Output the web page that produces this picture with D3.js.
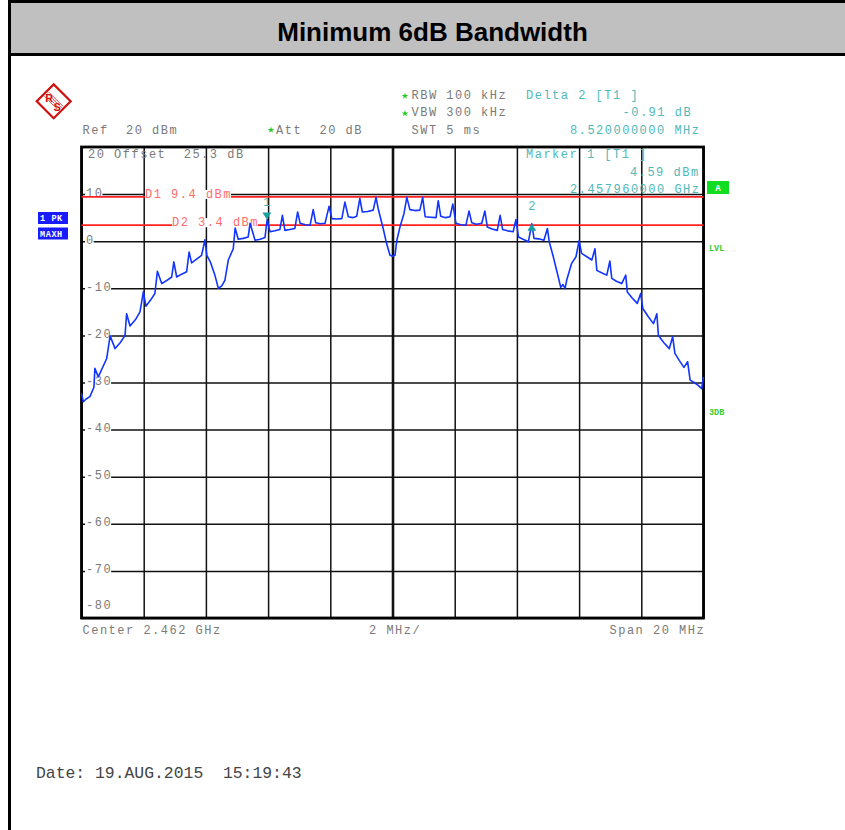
<!DOCTYPE html>
<html>
<head>
<meta charset="utf-8">
<script src="https://cdn.jsdelivr.net/npm/d3@7/dist/d3.min.js"></script>
<style>
  body { margin: 0; background: #fff; }
  svg { display: block; }
  svg text { white-space: pre; }
</style>
</head>
<body>
<div id="chart"></div>
<script>
const chartTitle = "Minimum 6dB Bandwidth"

// Analyzer settings (MHz / dBm)
const centerMHz = 2462
const spanMHz = 20
const refLevel = 20
const rangeDb = 100
const gridLevels = [10, 0, -10, -20, -30, -40, -50, -60, -70, -80]
const gridFreqs = [2452, 2454, 2456, 2458, 2460, 2462, 2464, 2466, 2468, 2470, 2472]

// Max hold trace
const traceFreqs = [
  2452.00, 2452.06, 2452.15, 2452.27, 2452.40, 2452.43, 2452.54, 2452.70, 2452.81, 2452.92,
  2453.08, 2453.25, 2453.40, 2453.45, 2453.56, 2453.75, 2453.88, 2453.99, 2454.07, 2454.22,
  2454.36, 2454.44, 2454.58, 2454.75, 2454.90, 2454.97, 2455.06, 2455.22, 2455.38, 2455.46,
  2455.54, 2455.70, 2455.86, 2455.97, 2456.03, 2456.15, 2456.28, 2456.40, 2456.51, 2456.61,
  2456.72, 2456.88, 2456.94, 2457.04, 2457.20, 2457.36, 2457.42, 2457.58, 2457.75, 2457.90,
  2457.97, 2458.06, 2458.22, 2458.38, 2458.46, 2458.54, 2458.70, 2458.86, 2458.95, 2459.03,
  2459.20, 2459.35, 2459.45, 2459.53, 2459.68, 2459.83, 2459.96, 2460.05, 2460.20, 2460.37,
  2460.47, 2460.58, 2460.72, 2460.85, 2460.95, 2461.03, 2461.20, 2461.38, 2461.47, 2461.54,
  2461.70, 2461.81, 2461.92, 2462.00, 2462.08, 2462.14, 2462.24, 2462.37, 2462.46, 2462.56,
  2462.72, 2462.88, 2462.97, 2463.05, 2463.22, 2463.40, 2463.47, 2463.55, 2463.70, 2463.85,
  2463.94, 2464.04, 2464.20, 2464.36, 2464.46, 2464.55, 2464.70, 2464.87, 2464.97, 2465.05,
  2465.20, 2465.37, 2465.46, 2465.54, 2465.70, 2465.88, 2465.97, 2466.05, 2466.20, 2466.37,
  2466.48, 2466.55, 2466.70, 2466.87, 2466.98, 2467.04, 2467.17, 2467.33, 2467.41, 2467.48,
  2467.55, 2467.60, 2467.76, 2467.90, 2468.00, 2468.08, 2468.25, 2468.41, 2468.51, 2468.57,
  2468.72, 2468.89, 2468.99, 2469.05, 2469.20, 2469.37, 2469.50, 2469.55, 2469.70, 2469.87,
  2469.98, 2470.05, 2470.22, 2470.39, 2470.50, 2470.55, 2470.72, 2470.90, 2471.01, 2471.08,
  2471.22, 2471.37, 2471.49, 2471.57, 2471.70, 2471.83, 2471.94, 2472.00
]
const traceLevels = [
  -32.3, -34.1, -33.5, -33.0, -31.0, -27.0, -28.8, -26.5, -24.9, -20.1,
  -22.8, -21.5, -20.0, -15.4, -18.0, -16.5, -15.0, -10.7, -13.8, -12.5,
  -11.1, -6.4, -9.0, -8.3, -7.6, -4.4, -7.6, -7.0, -6.5, -2.3,
  -4.6, -3.8, -3.0, 0.3, -3.0, -4.5, -7.0, -10.0, -9.5, -8.3,
  -4.0, -1.6, 2.8, 0.4, 0.6, 0.9, 3.8, 0.2, 0.4, 0.8,
  4.6, 2.0, 2.2, 2.5, 5.5, 2.3, 2.5, 2.7, 6.2, 3.8,
  3.5, 3.4, 6.7, 3.9, 3.7, 3.8, 7.4, 4.8, 4.7, 4.8,
  8.3, 5.2, 5.0, 5.3, 9.1, 6.2, 6.3, 6.6, 9.3, 6.9,
  2.7, -0.5, -3.0, -3.2, -3.0, 0.2, 3.0, 5.9, 9.3, 6.7,
  6.5, 6.6, 9.3, 5.2, 5.1, 5.0, 8.6, 5.3, 5.0, 5.2,
  7.9, 3.8, 3.5, 3.4, 6.4, 3.9, 3.6, 3.8, 6.4, 3.0,
  2.6, 2.3, 5.5, 2.5, 2.2, 2.0, 4.6, 0.9, 0.4, -0.1,
  3.7, 0.6, 0.5, 0.2, 2.7, -0.1, -3.3, -7.6, -9.8, -9.2,
  -10.0, -8.3, -4.7, -3.3, 0.1, -2.6, -3.3, -4.0, -1.6, -6.2,
  -6.7, -7.2, -4.2, -7.9, -8.5, -9.0, -7.2, -10.8, -12.0, -13.2,
  -11.1, -14.3, -16.0, -17.5, -15.4, -20.0, -21.5, -22.8, -20.3, -23.8,
  -25.3, -26.8, -25.6, -29.5, -30.0, -30.6, -31.3, -28.8
]

// Display lines and markers
const lineNames = ["D1", "D2"]
const lineLevels = [9.4, 3.4]
const markerNames = ["1", "2"]
const markerFreqs = [2457.96, 2466.48]
const markerLevels = [4.59, 3.68]

const plot = {left: 81.5, right: 703.5, top: 147, bottom: 618}
const mono = "'Liberation Mono', 'Courier New', monospace"
const gray = "#7a7a7a"
const teal = "#4fb8b8"
const red = "#ff2020"

const svg = d3.select("#chart")
  .append("svg")
  .attr("width", 845)
  .attr("height", 830)

const xScale = d3.scaleLinear()
  .domain([centerMHz - spanMHz / 2, centerMHz + spanMHz / 2])
  .range([plot.left, plot.right])
const yScale = d3.scaleLinear()
  .domain([refLevel - rangeDb, refLevel])
  .range([plot.bottom, plot.top])

/**
 * Page frame and grey title bar.
 */
const _drawPage = () => {
  svg.append("rect")
    .attr("x", 10).attr("y", 2).attr("width", 840).attr("height", 52)
    .attr("fill", "#c0c0c0")
  svg.append("path")
    .attr("d", "M9.5,830 V1.5 H845 M9.5,54.5 H845")
    .attr("fill", "none")
    .attr("stroke", "#000")
    .attr("stroke-width", 3)
  svg.append("text")
    .attr("x", 432.5).attr("y", 41)
    .attr("text-anchor", "middle")
    .style("font-family", "'Liberation Sans', Arial, sans-serif")
    .style("font-weight", "bold")
    .style("font-size", "26px")
    .text(chartTitle)
}

/**
 * Rohde & Schwarz style logo in the top left corner.
 */
const _drawLogo = () => {
  const logo = svg.append("g").attr("transform", "translate(53.7,101.3)")
  const diamond = logo.append("g").attr("transform", "rotate(45)")
  diamond.append("rect")
    .attr("x", -12).attr("y", -12).attr("width", 24).attr("height", 24)
    .attr("fill", "#fff").attr("stroke", "#d01010").attr("stroke-width", 2.2)
  ;[-3, -1, 1, 3].forEach(d => {
    diamond.append("line")
      .attr("x1", -10).attr("x2", 10).attr("y1", d).attr("y2", d)
      .attr("stroke", "#d01010").attr("stroke-width", 0.8)
  })
  logo.append("text").attr("x", -4.5).attr("y", 0.5)
    .attr("text-anchor", "middle")
    .style("font-family", "'Liberation Sans', Arial").style("font-weight", "bold").style("font-size", "11px")
    .attr("fill", "#d01010").attr("stroke", "#fff").attr("stroke-width", 0.7).attr("paint-order", "stroke")
    .text("R")
  logo.append("text").attr("x", 3.5).attr("y", 10)
    .attr("text-anchor", "middle")
    .style("font-family", "'Liberation Sans', Arial").style("font-weight", "bold").style("font-size", "11px")
    .attr("fill", "#d01010").attr("stroke", "#fff").attr("stroke-width", 0.7).attr("paint-order", "stroke")
    .text("S")
}

/**
 * Monospace helper used for all the analyzer readouts.
 */
const _label = (x, y, txt, colour, anchor) => {
  return svg.append("text")
    .attr("x", x).attr("y", y)
    .attr("text-anchor", anchor || "start")
    .attr("fill", colour)
    .style("font-family", mono)
    .style("font-size", "12px")
    .style("letter-spacing", "1.5px")
    .text(txt)
}

const _star = (x, y) => {
  svg.append("path")
    .attr("transform", "translate(" + x + "," + y + ")")
    .attr("d", d3.symbol(d3.symbolStar, 14)())
    .attr("fill", "#22cc22")
}

/**
 * Grid lines are drawn through d3 axes with full length ticks.
 */
const _drawGrid = () => {
  const width = plot.right - plot.left
  const height = plot.bottom - plot.top
  svg.append("g")
    .attr("transform", "translate(" + plot.left + ",0)")
    .call(d3.axisLeft(yScale).tickValues(gridLevels).tickSize(-width).tickFormat(""))
    .call(g => g.select(".domain").remove())
    .call(g => g.selectAll("line").attr("stroke", "#111").attr("stroke-width", 1.5))
  svg.append("g")
    .attr("transform", "translate(0," + plot.top + ")")
    .call(d3.axisTop(xScale).tickValues(gridFreqs).tickSize(-height).tickFormat(""))
    .call(g => g.select(".domain").remove())
    .call(g => g.selectAll("line")
      .attr("stroke", "#111")
      .attr("stroke-width", d => d === centerMHz ? 2.6 : 1.5))

  // Level labels sit on the grid lines with a white background.
  gridLevels.forEach(v => {
    const txt = v < 0 ? "-" + Math.abs(v) : String(v)
    if (v === refLevel - rangeDb) {
      _label(86, yScale(v) - 9, txt, gray)
      return
    }
    const y = yScale(v)
    svg.append("rect")
      .attr("x", 85).attr("y", y - 5)
      .attr("width", txt.length * 8.7).attr("height", 8)
      .attr("fill", "#fff")
    _label(86, y + 2.5, txt, gray)
  })

  svg.append("rect")
    .attr("x", plot.left).attr("y", plot.top)
    .attr("width", width).attr("height", height)
    .attr("fill", "none").attr("stroke", "#000").attr("stroke-width", 2.8)
}

/**
 * Horizontal display lines D1 / D2.
 */
const _drawDisplayLines = () => {
  const labelX = [145, 172]
  lineNames.forEach((name, i) => {
    const y = yScale(lineLevels[i])
    svg.append("line")
      .attr("x1", plot.left).attr("x2", plot.right)
      .attr("y1", y).attr("y2", y)
      .attr("stroke", red).attr("stroke-width", 1.8)
    const txt = name + " " + lineLevels[i] + " dBm"
    svg.append("rect")
      .attr("x", labelX[i]).attr("y", y - 7)
      .attr("width", txt.length * 8.7 - 1).attr("height", 9)
      .attr("fill", "#fff")
    _label(labelX[i], y + 1, txt, "#ff6a6a")
  })
}

const _drawTrace = () => {
  const line = d3.line()
    .x((d, i) => xScale(traceFreqs[i]))
    .y((d, i) => yScale(traceLevels[i]))
  svg.append("path")
    .datum(traceLevels)
    .attr("d", line)
    .attr("fill", "none")
    .attr("stroke", "#1234ff")
    .attr("stroke-width", 1.6)
    .attr("stroke-linejoin", "round")
}

/**
 * Marker 1 points down, delta marker 2 points up.
 */
const _drawMarkers = () => {
  markerNames.forEach((name, i) => {
    const x = xScale(markerFreqs[i])
    const y = yScale(markerLevels[i])
    const d = i === 0
      ? "M" + (x - 4.5) + "," + (y - 7) + "L" + (x + 4.5) + "," + (y - 7) + "L" + x + "," + y + "Z"
      : "M" + (x - 4.5) + "," + (y + 7) + "L" + (x + 4.5) + "," + (y + 7) + "L" + x + "," + y + "Z"
    svg.append("path").attr("d", d).attr("fill", "#1aa0a0")
    _label(x + 0.8, y - 14, name, teal, "middle")
  })
}

/**
 * Settings readouts around the diagram.
 */
const _drawReadouts = () => {
  _label(82.5, 134, "Ref  20 dBm", gray)
  _star(271, 130)
  _label(276, 134, "Att  20 dB", gray)
  _star(405, 96)
  _label(411.5, 98.5, "RBW 100 kHz", gray)
  _star(405, 113.5)
  _label(411.5, 116, "VBW 300 kHz", gray)
  _label(411.5, 133.5, "SWT 5 ms", gray)
  _label(526, 98.5, "Delta 2 [T1 ]", teal)
  _label(622.5, 116, "-0.91 dB", teal)
  _label(570, 133.5, "8.520000000 MHz", teal)
  _label(88, 158, "20 Offset  25.3 dB", gray)
  _label(526, 158, "Marker 1 [T1 ]", teal)
  _label(630, 175.5, "4.59 dBm", teal)
  _label(570, 193, "2.457960000 GHz", teal)
  _label(82.5, 633.5, "Center 2.462 GHz", gray)
  _label(369, 633.5, "2 MHz/", gray)
  _label(609.5, 633.5, "Span 20 MHz", gray)

  svg.append("text")
    .attr("x", 36).attr("y", 778)
    .attr("fill", "#444")
    .style("font-family", mono)
    .style("font-size", "16.4px")
    .text("Date: 19.AUG.2015  15:19:43")

  // Trace info boxes on the left and status flags on the right.
  const boxes = [["1 PK", 212], ["MAXH", 227.5]]
  boxes.forEach(b => {
    svg.append("rect")
      .attr("x", 38).attr("y", b[1]).attr("width", 30).attr("height", 12)
      .attr("fill", "#1a1aff")
    svg.append("text")
      .attr("x", 40).attr("y", b[1] + 9)
      .attr("fill", "#fff")
      .style("font-family", mono).style("font-weight", "bold").style("font-size", "8.5px")
      .style("letter-spacing", "0.6px")
      .text(b[0])
  })
  svg.append("rect")
    .attr("x", 707).attr("y", 181).attr("width", 22).attr("height", 13)
    .attr("fill", "#11dd22")
  svg.append("text")
    .attr("x", 718).attr("y", 191).attr("text-anchor", "middle")
    .attr("fill", "#fff")
    .style("font-family", mono).style("font-weight", "bold").style("font-size", "9px")
    .text("A")
  ;[["LVL", 251], ["3DB", 415]].forEach(f => {
    svg.append("text")
      .attr("x", 709).attr("y", f[1])
      .attr("fill", "#33cc33")
      .style("font-family", mono).style("font-weight", "bold").style("font-size", "8.5px")
      .text(f[0])
  })
}

_drawPage()
_drawLogo()
_drawGrid()
_drawDisplayLines()
_drawTrace()
_drawMarkers()
_drawReadouts()
</script>
</body>
</html>
